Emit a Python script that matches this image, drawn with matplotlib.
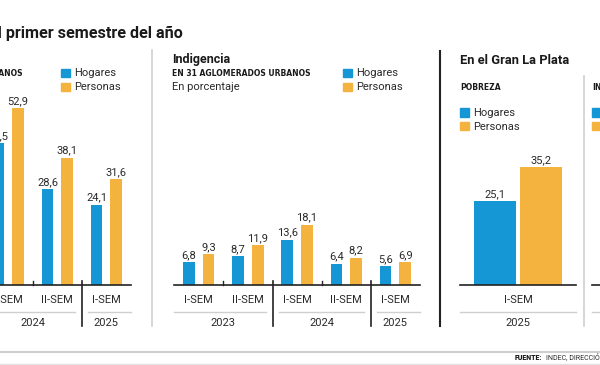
import matplotlib.pyplot as plt
from matplotlib.patches import Rectangle
from matplotlib.transforms import blended_transform_factory

plt.rcParams['font.family'] = ['Roboto', 'DejaVu Sans']

# Pobreza, 31 aglomerados urbanos (en porcentaje)
pob_sem = ["I-SEM", "II-SEM", "I-SEM"]
pob_anio = ["2024", "2024", "2025"]
pob_hogares = [42.5, 28.6, 24.1]
pob_personas = [52.9, 38.1, 31.6]

# Indigencia, 31 aglomerados urbanos
ind_sem = ["I-SEM", "II-SEM", "I-SEM", "II-SEM", "I-SEM"]
ind_anio = ["2023", "2023", "2024", "2024", "2025"]
ind_hogares = [6.8, 8.7, 13.6, 6.4, 5.6]
ind_personas = [9.3, 11.9, 18.1, 8.2, 6.9]

# Gran La Plata, pobreza
glp_sem = ["I-SEM"]
glp_anio = ["2025"]
glp_hogares = [25.1]
glp_personas = [35.2]

AZUL = '#1597d5'
NARANJA = '#f4b23f'
TXT = '#2a2a2a'
GRIS = '#cfcfcf'
W, H = 600, 365
BASE = 285      # linea de base (px)
ESC = 3.34      # px por punto porcentual
YMAX = 60

fig = plt.figure(figsize=(6, 3.65), dpi=100)


def fx(x):
    return x / W


def fy(y):
    return 1 - y / H


def fmt(v):
    return f"{v:.1f}".replace('.', ',')


def linea_fig(x0, x1, y0, y1, color, lw):
    fig.add_artist(plt.Line2D([fx(x0), fx(x1)], [fy(y0), fy(y1)],
                              transform=fig.transFigure, color=color, lw=lw))


def panel(x0, x1, sem, anio, hog, per, ancho, desp):
    ax = fig.add_axes([fx(x0), fy(BASE), fx(x1 - x0), ESC * YMAX / H])
    n = len(sem)
    xs = list(range(n))
    b1 = ax.bar([i - desp for i in xs], hog, width=ancho, color=AZUL)
    b2 = ax.bar([i + desp for i in xs], per, width=ancho, color=NARANJA)
    for barras, vals in ((b1, hog), (b2, per)):
        for b, v in zip(barras, vals):
            ax.annotate(fmt(v), (b.get_x() + b.get_width() / 2, v),
                        xytext=(0, 1.5), textcoords='offset points',
                        ha='center', va='bottom', fontsize=8, color=TXT)
    ax.set_xlim(-0.5, n - 0.5)
    ax.set_ylim(0, YMAX)
    for s in ('top', 'left', 'right'):
        ax.spines[s].set_visible(False)
    ax.spines['bottom'].set_color('#222222')
    ax.spines['bottom'].set_linewidth(1.2)
    ax.set_yticks([])
    ax.set_xticks(xs, sem)
    ax.tick_params(axis='x', length=0, pad=7.5, labelsize=8, labelcolor=TXT)
    ax.patch.set_alpha(0)

    tr = blended_transform_factory(ax.transData, fig.transFigure)
    upx = (x1 - x0) / n
    hueco = 6.5 / upx
    # agrupar por anio
    runs = []
    i0 = 0
    for i in range(1, n + 1):
        if i == n or anio[i] != anio[i0]:
            runs.append((i0, i - 1))
            i0 = i
    for k, (a, b) in enumerate(runs):
        ia = a - 0.5 + (hueco if k > 0 else 0)
        ib = b + 0.5 - (hueco if k < len(runs) - 1 else 0)
        ax.plot([ia, ib], [fy(312), fy(312)], transform=tr, color=GRIS,
                lw=1, clip_on=False)
        ax.text((a + b) / 2, fy(322.5), anio[a], transform=tr, ha='center',
                va='center', fontsize=8, color=TXT)
        for j in range(a, b):
            ax.plot([j + 0.5, j + 0.5], [fy(281), fy(285)], transform=tr,
                    color='#222222', lw=1, clip_on=False)
        if k < len(runs) - 1:
            ax.plot([b + 0.5, b + 0.5], [fy(281), fy(326)], transform=tr,
                    color='#222222', lw=1.2, clip_on=False)
    return ax


def leyenda(x, y):
    for k, (c, t) in enumerate(((AZUL, "Hogares"), (NARANJA, "Personas"))):
        yy = y + k * 14
        fig.add_artist(Rectangle((fx(x), fy(yy + 8.5)), 9 / W, 8.5 / H,
                                 transform=fig.transFigure, color=c))
        fig.text(fx(x + 13), fy(yy + 4.5), t, ha='left', va='center',
                 fontsize=8, color=TXT)


panel(-16.45, 131, pob_sem, pob_anio, pob_hogares, pob_personas, 0.236, 0.2)
panel(174.2, 420, ind_sem, ind_anio, ind_hogares, ind_personas, 0.236, 0.2)
panel(460, 576, glp_sem, glp_anio, glp_hogares, glp_personas, 0.362, 0.198)

# panel siguiente (cortado en el borde)
linea_fig(592, 610, BASE, BASE, '#222222', 1.2)
linea_fig(592, 610, 312, 312, GRIS, 1)

# titulos
fig.text(fx(183), fy(33), "en el primer semestre del año", ha='right',
         va='center', fontsize=11.6, fontweight='bold', color='#1a1a1a')
fig.text(fx(23), fy(74), "EN 31 AGLOMERADOS URBANOS", ha='right',
         va='center', fontsize=5.5, fontweight='heavy', color='#1a1a1a',
         family='DejaVu Sans')
fig.text(fx(172), fy(60), "Indigencia", ha='left', va='center',
         fontsize=9, fontweight='bold', color='#1a1a1a')
fig.text(fx(172), fy(74), "EN 31 AGLOMERADOS URBANOS", ha='left',
         va='center', fontsize=5.5, fontweight='heavy', color='#1a1a1a',
         family='DejaVu Sans')
fig.text(fx(172), fy(87), "En porcentaje", ha='left', va='center',
         fontsize=8, color=TXT)
fig.text(fx(460), fy(61), "En el Gran La Plata", ha='left', va='center',
         fontsize=9.3, fontweight='bold', color='#1a1a1a')
fig.text(fx(460), fy(88), "POBREZA", ha='left', va='center',
         fontsize=5.5, fontweight='heavy', color='#1a1a1a',
         family='DejaVu Sans')
fig.text(fx(592), fy(88), "INDIGENCIA", ha='left', va='center',
         fontsize=5.5, fontweight='heavy', color='#1a1a1a',
         family='DejaVu Sans')

leyenda(61, 68.5)
leyenda(343, 68.5)
leyenda(460, 108)
leyenda(592, 108)

# divisores
linea_fig(151.7, 151.7, 50, 326, GRIS, 1.2)
linea_fig(439.5, 439.5, 51, 326, '#222222', 1.5)
linea_fig(583.5, 583.5, 76, 326, GRIS, 1.2)

# pie
linea_fig(0, 600, 351.5, 351.5, GRIS, 1.5)
linea_fig(0, 600, 363.5, 363.5, '#e2e2e2', 1)
fig.text(fx(515), fy(357.5), "FUENTE:", ha='left', va='center',
         fontsize=5, fontweight='heavy', color='#1a1a1a')
fig.text(fx(546), fy(357.5), "INDEC, DIRECCIÓN PROVINCIAL DE ESTADÍSTICA",
         ha='left', va='center', fontsize=5, color=TXT)

fig.savefig("out.png", dpi=100)
